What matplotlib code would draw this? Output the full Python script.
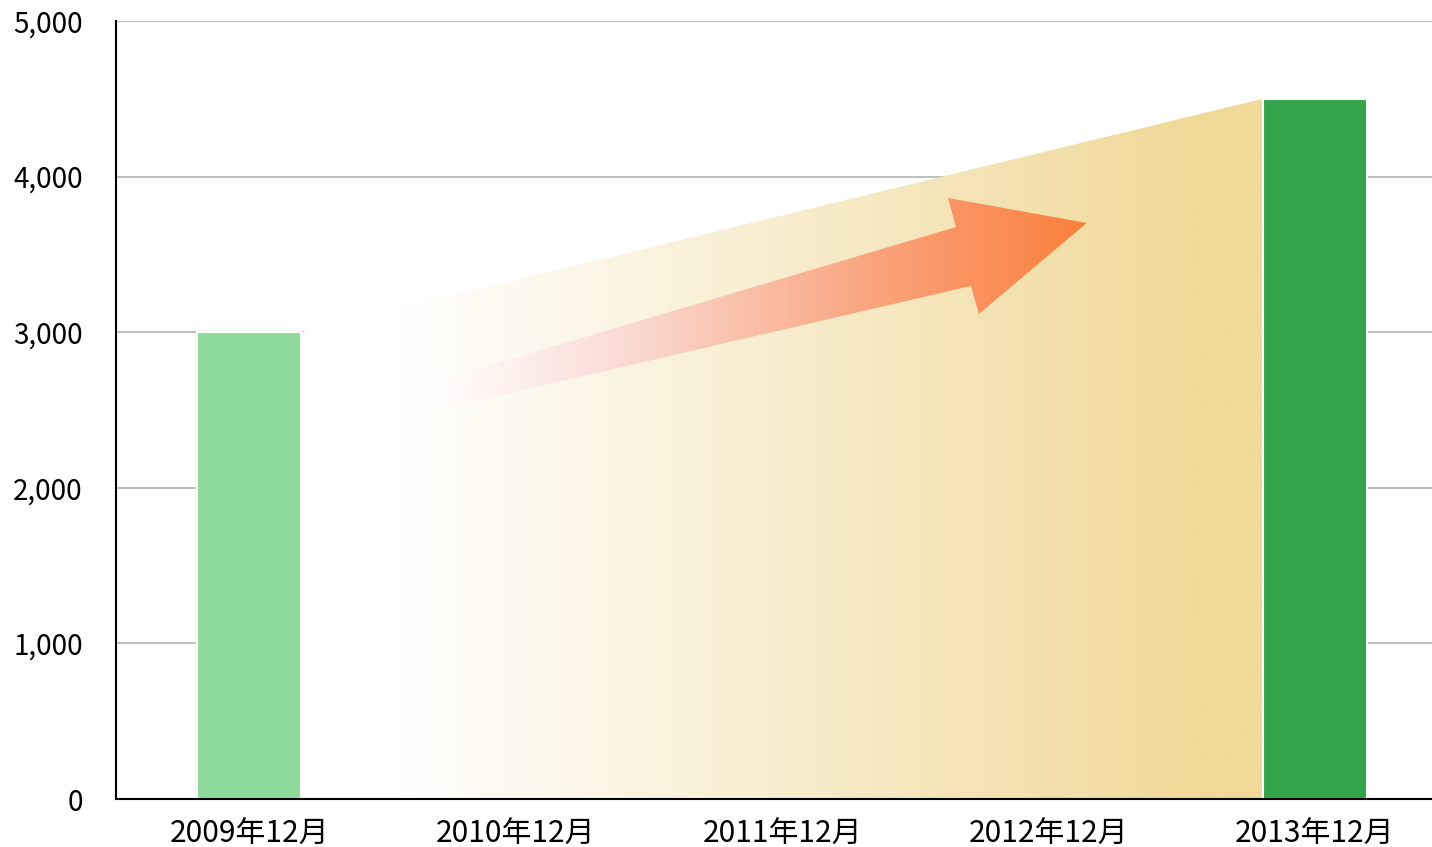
import matplotlib.pyplot as plt
import numpy as np
from matplotlib.patches import Polygon
from matplotlib.colors import LinearSegmentedColormap
from matplotlib.ticker import FuncFormatter

plt.rcParams['font.family'] = ['Noto Sans CJK JP', 'DejaVu Sans']

# data
categories = ['2009年12月', '2010年12月', '2011年12月', '2012年12月', '2013年12月']
bar_index = [0, 4]
bar_values = [3000, 4500]
bar_colors = ['#8EDB9B', '#34A44B']
y_ticks = [0, 1000, 2000, 3000, 4000, 5000]

bar_width = 0.39

fig = plt.figure(figsize=(14.32, 8.47), dpi=100)
ax = fig.add_axes([116 / 1432, 48 / 847, 1332 / 1432, 778 / 847])

ax.set_xlim(-0.5, 4.5)
ax.set_ylim(0, 5000)

# grid
ax.set_yticks(y_ticks)
ax.yaxis.grid(True, color='#C0C0C0', linewidth=1.5, zorder=0)
ax.set_axisbelow(True)

# gradient band between the two bars
x0 = bar_index[0] + bar_width / 2
x1 = bar_index[1] - bar_width / 2
band = Polygon([(x0, 0), (x0, bar_values[0]), (x1, bar_values[1]), (x1, 0)],
               closed=True, facecolor='none', edgecolor='none')
ax.add_patch(band)
xs = np.linspace(x0, x1, 600)
t = np.clip((xs - 0.55) / (3.55 - 0.55), 0, 1)
c_end = np.array([240, 217, 153]) / 255
rgb = (1 - t)[:, None] * np.ones(3) + t[:, None] * c_end
img = np.tile(rgb[None, :, :], (2, 1, 1))
im = ax.imshow(img, extent=[x0, x1, 0, bar_values[1]], aspect='auto',
               origin='lower', zorder=1, interpolation='bilinear')
im.set_clip_path(band)

# bars
ax.bar(bar_index, bar_values, width=bar_width, color=bar_colors,
       edgecolor='white', linewidth=1.5, zorder=2)

# arrow (data coords)
arrow_pts = [(0.679, 2673), (2.653, 3676), (2.623, 3863), (3.144, 3702),
             (2.739, 3117), (2.709, 3297), (0.705, 2500)]
arrow = Polygon(arrow_pts, closed=True, facecolor='none', edgecolor='none')
ax.add_patch(arrow)
ax_min = min(p[0] for p in arrow_pts)
ax_max = max(p[0] for p in arrow_pts)
ay_min = min(p[1] for p in arrow_pts)
ay_max = max(p[1] for p in arrow_pts)
arrow_cmap = LinearSegmentedColormap.from_list('arr', [
    (0.0, (1, 1, 1)),
    (0.3, (250 / 255, 218 / 255, 210 / 255)),
    (0.7, (249 / 255, 160 / 255, 120 / 255)),
    (1.0, (250 / 255, 128 / 255, 60 / 255))])
grad = np.linspace(0, 1, 500)[None, :].repeat(2, axis=0)
im2 = ax.imshow(grad, extent=[ax_min, ax_max, ay_min, ay_max], aspect='auto',
                origin='lower', cmap=arrow_cmap, zorder=3, interpolation='bilinear')
im2.set_clip_path(arrow)

ax.set_xlim(-0.5, 4.5)
ax.set_ylim(0, 5000)

ax.set_xticks(range(len(categories)))
ax.set_xticklabels(categories)
ax.yaxis.set_major_formatter(FuncFormatter(lambda v, p: f'{int(v):,}'))
ax.tick_params(axis='both', length=0, colors='black')
ax.tick_params(axis='y', pad=24, labelsize=20)
ax.tick_params(axis='x', pad=14, labelsize=21.5)

for s in ['top', 'right']:
    ax.spines[s].set_visible(False)
for s in ['left', 'bottom']:
    ax.spines[s].set_color('black')
    ax.spines[s].set_linewidth(1.5)
    ax.spines[s].set_zorder(4)

fig.savefig('out.png', dpi=100)
